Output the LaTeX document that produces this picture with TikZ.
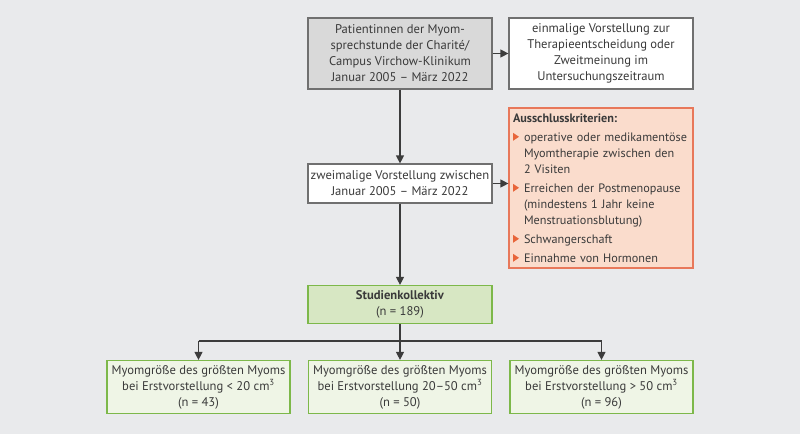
\documentclass[tikz,border=0pt]{standalone}
\usepackage{fontspec}
\setmainfont{PT Sans}
\usetikzlibrary{arrows.meta}
\definecolor{bg}{HTML}{E9EAEC}
\definecolor{txt}{HTML}{3A3A3A}
\definecolor{line}{HTML}{3C3C3C}
\definecolor{grayfill}{HTML}{D9D9D9}
\definecolor{grayedge}{HTML}{707070}
\definecolor{salfill}{HTML}{FADCCC}
\definecolor{saledge}{HTML}{E8785A}
\definecolor{tri}{HTML}{E8653A}
\definecolor{grnedge}{HTML}{7DB84A}
\definecolor{grnfill}{HTML}{D7E7C3}
\definecolor{grnlight}{HTML}{EFF5E6}
\newcommand{\tribul}{\makebox[11pt][l]{\raisebox{0.5pt}{\tikz\fill[tri] (0,0) -- (0,8pt) -- (6pt,4pt) -- cycle;}}}
\newcommand{\critem}[1]{\par\vspace{3pt}\hangindent=11pt\hangafter=1\noindent\tribul #1}
\newcommand{\oneline}[1]{\mbox{#1}}
\tikzset{
  box/.style={draw=grayedge, line width=1.2pt, fill=white, text=txt, align=center,
    inner sep=2pt, font=\fontsize{12.6}{16}\selectfont, minimum width=184pt},
  graybox/.style={box, fill=grayfill},
  grnbox/.style={box, draw=grnedge, fill=grnlight, minimum width=183pt},
  conn/.style={draw=line, line width=1.2pt},
  arr/.style={conn, -{Triangle[length=8pt,width=8pt]}}
}
\begin{document}
\begin{tikzpicture}[x=1pt,y=-1pt]
\fill[bg] (0,0) rectangle (800,434);
\useasboundingbox (0,0) rectangle (800,434);
\node[graybox, minimum height=71pt] (b1) at (400,53.5) {Patientinnen der Myom-\\sprechstunde der Charité/\\Campus Virchow-Klinikum\\Januar 2005 – März 2022};
\node[box, minimum height=71pt] (b2) at (601,53.5) {einmalige Vorstellung zur\\Therapieentscheidung oder\\Zweitmeinung im\\Untersuchungszeitraum};
\node[box, draw=saledge, fill=salfill, minimum height=160pt, text width=176pt, align=left, inner xsep=4pt, inner ysep=2pt, font=\fontsize{12.2}{16}\selectfont] (b3) at (601,188) {%
  \textbf{Ausschlusskriterien:}%
  \critem{\oneline{operative oder medikamentöse}\newline \oneline{Myomtherapie zwischen den}\newline \oneline{2 Visiten}}%
  \critem{\oneline{Erreichen der Postmenopause}\newline \oneline{(mindestens 1 Jahr keine}\newline \oneline{Menstruationsblutung)}}%
  \critem{\oneline{Schwangerschaft}}%
  \critem{\oneline{Einnahme von Hormonen}}};
\node[box, minimum height=39pt] (b4) at (400,183.5) {zweimalige Vorstellung zwischen\\Januar 2005 – März 2022};
\node[box, draw=grnedge, fill=grnfill, minimum height=38pt] (b5) at (400,304.5) {\textbf{Studienkollektiv}\\(n = 189)};
\node[grnbox, minimum height=53pt] (b6) at (198.5,387) {Myomgröße des größten Myoms\\bei Erstvorstellung < 20 cm\textsuperscript{3}\\(n = 43)};
\node[grnbox, minimum height=53pt] (b7) at (400,387) {Myomgröße des größten Myoms\\bei Erstvorstellung 20–50 cm\textsuperscript{3}\\(n = 50)};
\node[grnbox, minimum height=53pt] (b8) at (601.5,387) {Myomgröße des größten Myoms\\bei Erstvorstellung > 50 cm\textsuperscript{3}\\(n = 96)};
\coordinate (split) at (400,341);
\draw[arr] (b1.south) -- (b4.north);
\draw[arr] (b1.east) -- (b2.west);
\draw[arr] (b4.east) -- (b4.east -| b3.west);
\draw[arr] (b4.south) -- (b5.north);
\draw[conn] (b5.south) -- (split);
\draw[conn] (split -| b6.north) -- (split -| b8.north);
\draw[arr] (split -| b6.north) -- (b6.north);
\draw[arr] (split) -- (b7.north);
\draw[arr] (split -| b8.north) -- (b8.north);
\end{tikzpicture}
\end{document}
